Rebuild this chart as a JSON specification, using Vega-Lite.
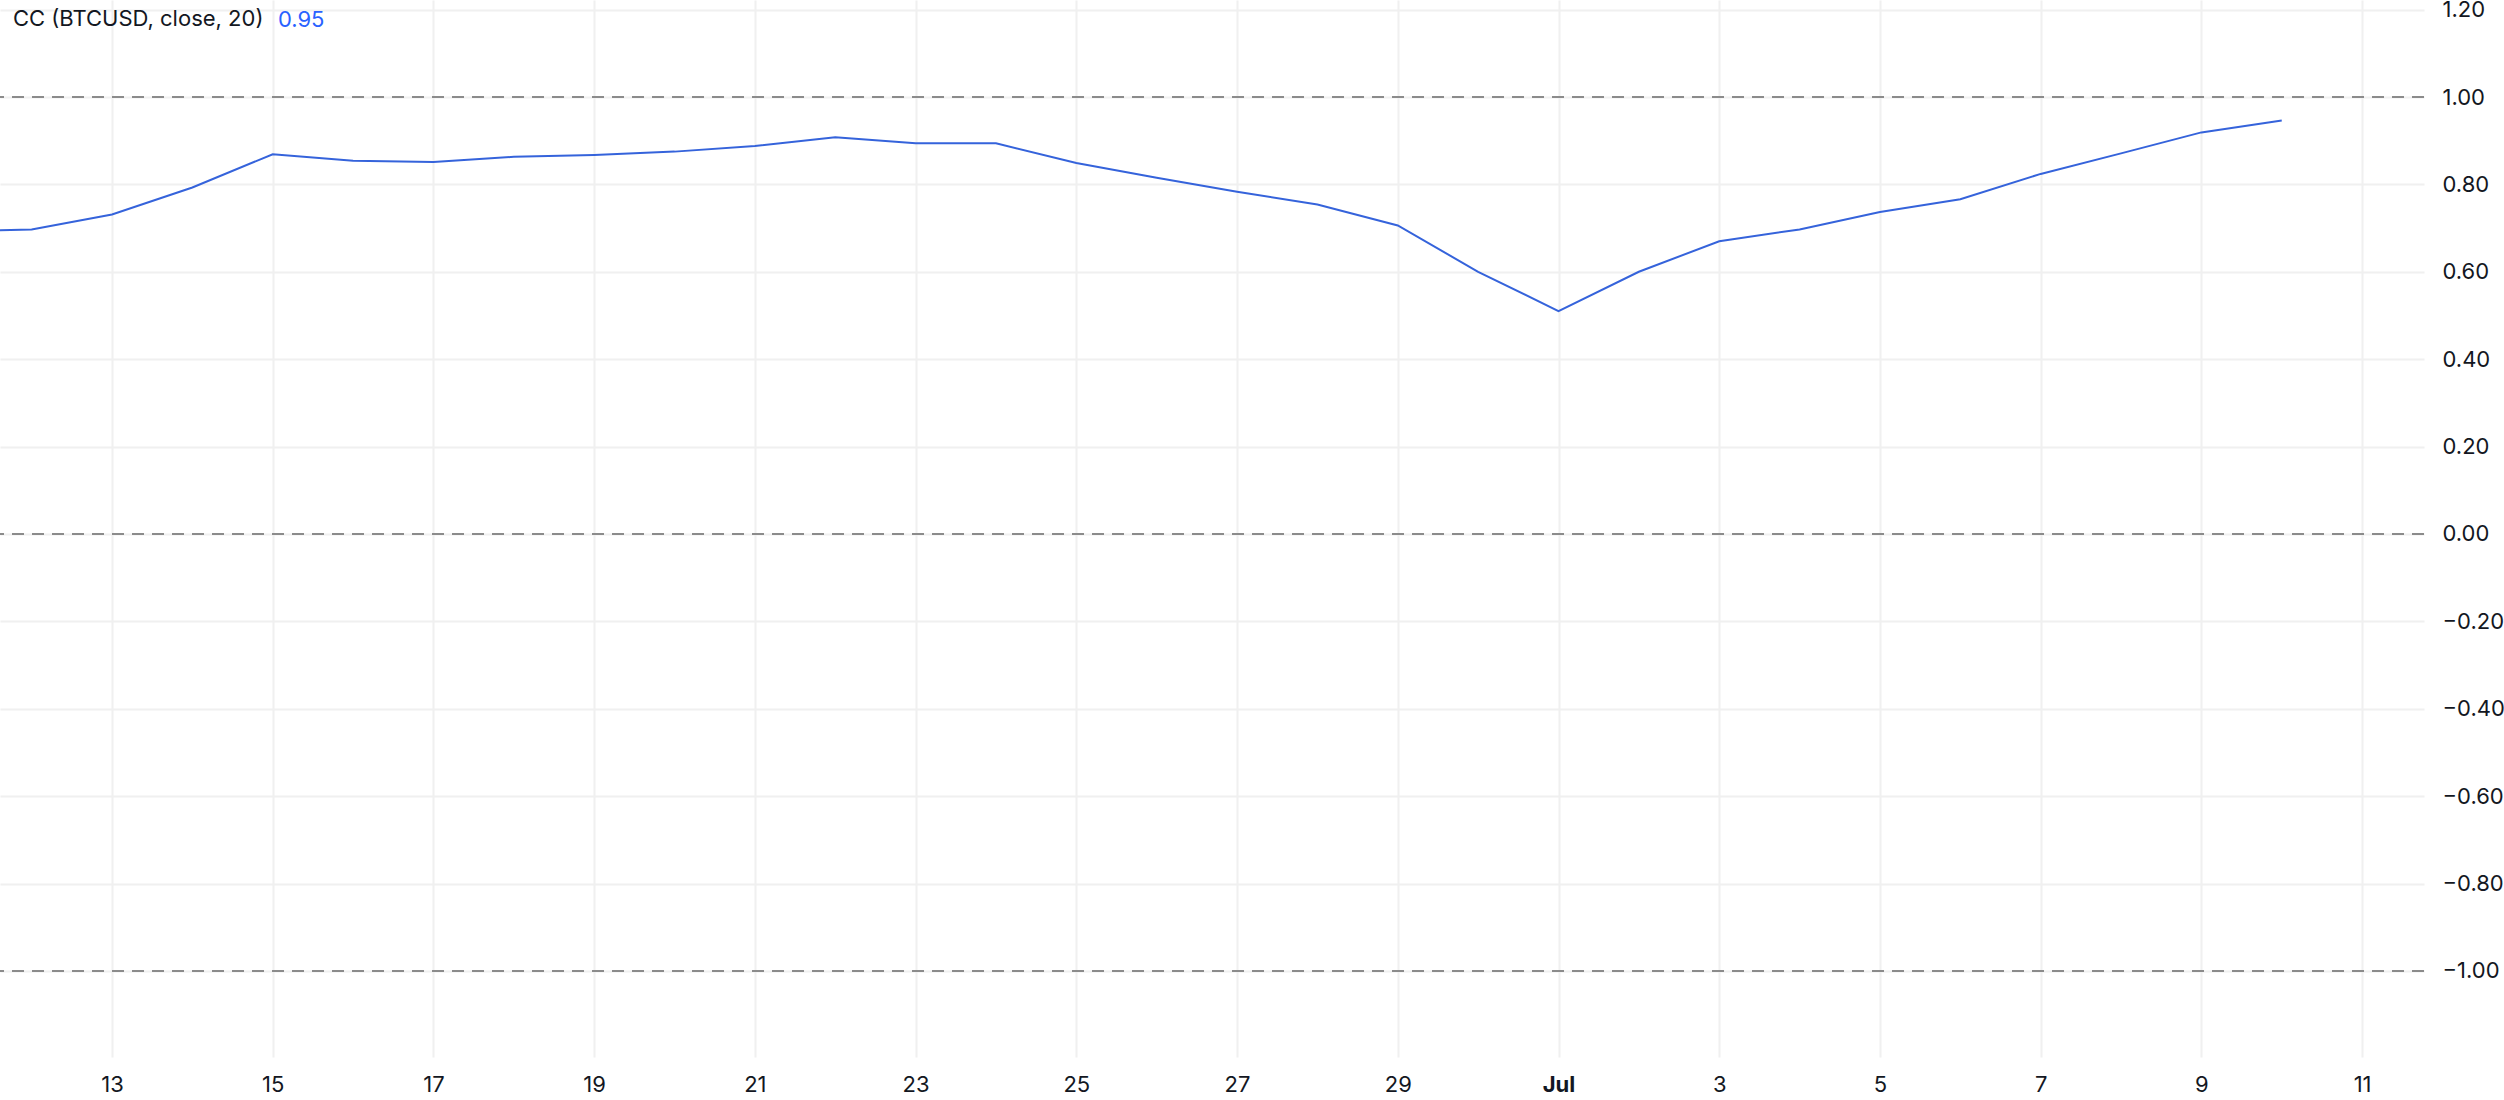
{
  "$schema": "https://vega.github.io/schema/vega-lite/v6.json",
  "width": 2424,
  "height": 1057,
  "autosize": {"type": "none"},
  "padding": {"left": 0, "top": 0, "right": 80, "bottom": 43},
  "background": "#ffffff",
  "title": {
    "text": "CC (BTCUSD, close, 20)",
    "anchor": "start",
    "frame": "group",
    "orient": "top",
    "offset": -42,
    "dx": 13,
    "baseline": "middle",
    "fontSize": 22,
    "fontWeight": "normal",
    "font": "Inter",
    "color": "#131722"
  },
  "datasets": {
    "cc": [
      {"date": "2024-06-11", "value": 0.692},
      {"date": "2024-06-12", "value": 0.697},
      {"date": "2024-06-13", "value": 0.731},
      {"date": "2024-06-14", "value": 0.793},
      {"date": "2024-06-15", "value": 0.869},
      {"date": "2024-06-16", "value": 0.854},
      {"date": "2024-06-17", "value": 0.851},
      {"date": "2024-06-18", "value": 0.863},
      {"date": "2024-06-19", "value": 0.867},
      {"date": "2024-06-20", "value": 0.875},
      {"date": "2024-06-21", "value": 0.888},
      {"date": "2024-06-22", "value": 0.908},
      {"date": "2024-06-23", "value": 0.894},
      {"date": "2024-06-24", "value": 0.894},
      {"date": "2024-06-25", "value": 0.849},
      {"date": "2024-06-26", "value": 0.815},
      {"date": "2024-06-27", "value": 0.783},
      {"date": "2024-06-28", "value": 0.754},
      {"date": "2024-06-29", "value": 0.706},
      {"date": "2024-06-30", "value": 0.600},
      {"date": "2024-07-01", "value": 0.510},
      {"date": "2024-07-02", "value": 0.600},
      {"date": "2024-07-03", "value": 0.670},
      {"date": "2024-07-04", "value": 0.697},
      {"date": "2024-07-05", "value": 0.737},
      {"date": "2024-07-06", "value": 0.766},
      {"date": "2024-07-07", "value": 0.824},
      {"date": "2024-07-08", "value": 0.871},
      {"date": "2024-07-09", "value": 0.919},
      {"date": "2024-07-10", "value": 0.946}
    ],
    "levels": [
      {"level": 1},
      {"level": 0},
      {"level": -1}
    ]
  },
  "layer": [
    {
      "data": {"name": "cc"},
      "mark": {"type": "line", "color": "#3563db", "strokeWidth": 2, "clip": true},
      "encoding": {
        "x": {
          "field": "date",
          "type": "temporal",
          "scale": {
            "type": "utc",
            "domain": [
              {"year": 2024, "month": 6, "date": 11, "hours": 14, "minutes": 33, "utc": true},
              {"year": 2024, "month": 7, "date": 11, "hours": 18, "minutes": 29, "utc": true}
            ]
          },
          "axis": {
            "orient": "bottom",
            "title": null,
            "values": [
              {"year": 2024, "month": 6, "date": 13, "utc": true},
              {"year": 2024, "month": 6, "date": 15, "utc": true},
              {"year": 2024, "month": 6, "date": 17, "utc": true},
              {"year": 2024, "month": 6, "date": 19, "utc": true},
              {"year": 2024, "month": 6, "date": 21, "utc": true},
              {"year": 2024, "month": 6, "date": 23, "utc": true},
              {"year": 2024, "month": 6, "date": 25, "utc": true},
              {"year": 2024, "month": 6, "date": 27, "utc": true},
              {"year": 2024, "month": 6, "date": 29, "utc": true},
              {"year": 2024, "month": 7, "date": 1, "utc": true},
              {"year": 2024, "month": 7, "date": 3, "utc": true},
              {"year": 2024, "month": 7, "date": 5, "utc": true},
              {"year": 2024, "month": 7, "date": 7, "utc": true},
              {"year": 2024, "month": 7, "date": 9, "utc": true},
              {"year": 2024, "month": 7, "date": 11, "utc": true}
            ],
            "labelExpr": "utcdate(datum.value) == 1 ? 'Jul' : '' + utcdate(datum.value)",
            "labelFontWeight": {"condition": {"test": "utcdate(datum.value) == 1", "value": "bold"}, "value": "normal"},
            "labelPadding": 17,
            "labelFlush": false,
            "labelOverlap": false
          }
        },
        "y": {
          "field": "value",
          "type": "quantitative",
          "scale": {"domain": [-1.197, 1.222], "nice": false, "zero": false},
          "axis": {
            "orient": "right",
            "title": null,
            "values": [-1, -0.8, -0.6, -0.4, -0.2, 0, 0.2, 0.4, 0.6, 0.8, 1, 1.2],
            "format": ".2f",
            "labelPadding": 18,
            "labelFlush": false,
            "labelOverlap": false
          }
        }
      }
    },
    {
      "data": {"name": "levels"},
      "mark": {"type": "rule", "color": "#8b8b8b", "strokeWidth": 2, "strokeDash": [12, 8]},
      "encoding": {
        "y": {"field": "level", "type": "quantitative"}
      }
    },
    {
      "data": {"name": "cc"},
      "transform": [
        {"window": [{"op": "row_number", "as": "rank"}], "sort": [{"field": "date", "order": "descending"}]},
        {"filter": "datum.rank == 1"}
      ],
      "mark": {"type": "text", "align": "left", "baseline": "middle", "fontSize": 22, "font": "Inter", "color": "#2962ff"},
      "encoding": {
        "x": {"datum": {"year": 2024, "month": 6, "date": 15, "hours": 1, "minutes": 34, "utc": true}, "type": "temporal"},
        "y": {"datum": 1.176},
        "text": {"field": "value", "type": "quantitative", "format": ".2f"}
      }
    }
  ],
  "config": {
    "view": {"stroke": null},
    "font": "Inter",
    "axis": {
      "domain": false,
      "ticks": false,
      "grid": true,
      "gridColor": "#f0f0f0",
      "gridWidth": 2,
      "labelFont": "Inter",
      "labelFontSize": 22,
      "labelColor": "#131722"
    }
  }
}
